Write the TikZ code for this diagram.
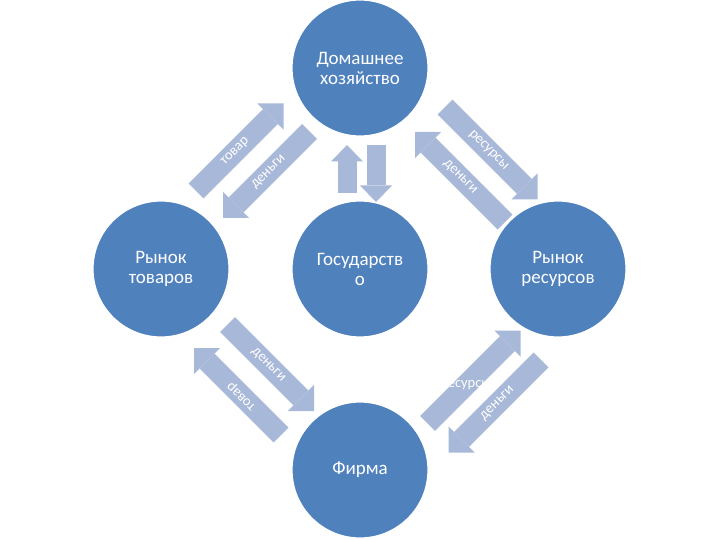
\documentclass[tikz,border=0pt]{standalone}
\usepackage{fontspec}
\setmainfont{Carlito}
\usetikzlibrary{arrows.meta}
\definecolor{circBlue}{RGB}{79,129,189}
\definecolor{arrLight}{RGB}{168,184,216}
\tikzset{
  sector/.style={circle, fill=circBlue, draw=white, line width=1.2pt, minimum size=136pt,
    inner sep=0pt, text=white, align=center, font=\fontsize{19}{20}\selectfont},
  flow/.style={arrLight, line width=21pt, -{Triangle[width=37pt,length=18.5pt,line width=0pt]}},
  flowsmall/.style={arrLight, line width=19pt, -{Triangle[width=32pt,length=16.5pt,line width=0pt]}},
  flowtext/.style={text=white, font=\fontsize{14.5}{16}\selectfont, sloped, inner sep=0pt}
}
\begin{document}
\begin{tikzpicture}[x=1pt, y=-1pt, line join=round]
\useasboundingbox (0,0) rectangle (720,540);
% circles
\node[sector] (dom) at (360,68) {Домашнее\\хозяйство};
\node[sector] (rtov) at (161,269) {Рынок\\товаров};
\node[sector] (gos) at (360,269) {Государств\\о};
\node[sector] (rres) at (558,269) {Рынок\\ресурсов};
\node[sector] (firm) at (360,470) {Фирма};
% arrow ends
\coordinate (tovA) at (196,191);
\coordinate (tovB) at (283.5,103.5);
\coordinate (denA) at (309.5,131.5);
\coordinate (denB) at (223,218);
\coordinate (resA) at (445,107);
\coordinate (resB) at (537.5,199.5);
\coordinate (denC) at (505,222);
\coordinate (denD) at (415,132);
\coordinate (tovC) at (281,435);
\coordinate (tovD) at (194,348);
\coordinate (denE) at (227.5,324.5);
\coordinate (denF) at (314,411);
\coordinate (resC) at (427.5,423.5);
\coordinate (resD) at (520.5,330.5);
\coordinate (denG) at (541,360);
\coordinate (denH) at (448.5,452.5);
\coordinate (upA) at (347,193);
\coordinate (upB) at (347,145);
\coordinate (dnA) at (376,145);
\coordinate (dnB) at (376,202);
% household -- goods market
\draw[flow] (tovA) -- (tovB) node[flowtext, pos=0.45] {товар};
\draw[flow] (denA) -- (denB) node[flowtext, pos=0.47] {деньги};
% household -- resource market
\draw[flow] (resA) -- (resB) node[flowtext, pos=0.47] {ресурсы};
\draw[flow] (denC) -- (denD) node[flowtext, pos=0.5] {деньги};
% firm -- goods market
\draw[flow] (tovC) -- (tovD) node[flowtext, allow upside down, pos=0.45] {товар};
\draw[flow] (denE) -- (denF) node[flowtext, pos=0.47] {деньги};
% firm -- resource market
\draw[flow] (resC) -- (resD) node[text=white, font=\fontsize{14.5}{16}\selectfont, inner sep=0pt, pos=0.41] {ресурсы};
\draw[flow] (denG) -- (denH) node[flowtext, pos=0.47] {деньги};
% household -- state
\draw[flowsmall] (upA) -- (upB);
\draw[flowsmall] (dnA) -- (dnB);
\end{tikzpicture}
\end{document}
